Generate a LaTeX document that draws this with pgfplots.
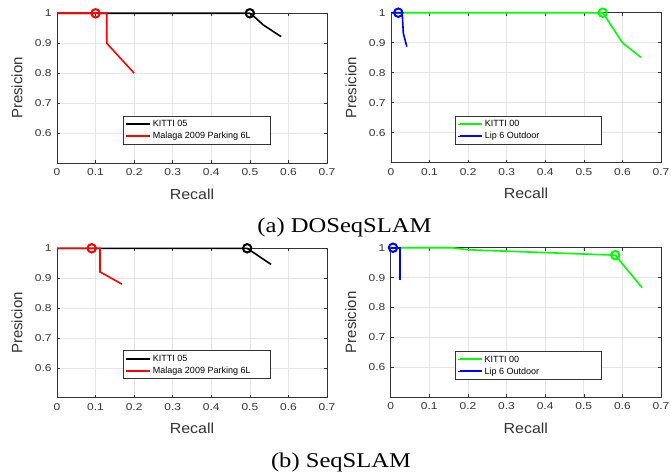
\documentclass[border=0pt]{standalone}
\usepackage{pgfplots}
\pgfplotsset{compat=1.18}
\usepackage{fontspec}
\setmainfont{Liberation Sans}
\newfontfamily\timesf{Liberation Serif}
\definecolor{mgreen}{RGB}{0,255,0}
\definecolor{mblue}{RGB}{0,0,255}
\definecolor{mred}{RGB}{255,0,0}
\definecolor{axgray}{gray}{0.2}
\pgfplotsset{
  prpanel/.style={
    scale only axis, anchor=south west,
    width=270pt, height=149.7pt,
    xmin=0, xmax=0.7, ymin=0.5, ymax=1,
    xtick={0,0.1,0.2,0.3,0.4,0.5,0.6,0.7},
    ytick={0.6,0.7,0.8,0.9,1},
    /pgf/number format/assume math mode=true,
    tick label style={font=\fontsize{10}{12}\selectfont, text=axgray, xscale=1.2},
    xticklabel style={yshift=-2pt},
    yticklabel style={xshift=-1pt},
    grid=major,
    major grid style={gray!20, line width=0.6pt},
    axis line style={axgray, line width=0.7pt},
    tick style={axgray, line width=0.5pt},
    tick align=inside, major tick length=3pt,
    clip=false,
    xlabel={Recall}, ylabel={Presicion},
    every axis x label/.style={at={(axis description cs:0.5,-0.207)}, anchor=center, font=\fontsize{14.5}{16}\selectfont, text=axgray, xscale=1.1},
    every axis y label/.style={at={(axis description cs:-0.148,0.5)}, anchor=center, rotate=90, font=\fontsize{15}{17}\selectfont, text=axgray},
    legend style={draw=axgray, fill=white, line width=0.7pt, inner sep=2pt,
      font=\fontsize{9}{10}\selectfont,
      nodes={inner sep=2pt, text height=6.5pt, text depth=1.5pt, anchor=west},
      row sep=0pt, column sep=0pt},
    legend cell align=left,
    legend image code/.code={\path (0pt,0pt) -- (24pt,0pt); \draw[#1, line width=2pt] (2pt,0.25pt) -- (24pt,0.25pt);},
  },
  pline/.style={line width=1.6pt, mark=none},
  pmark/.style={only marks, mark=o, mark size=4.2pt, mark options={line width=2pt}, forget plot},
}
\newcommand{\lt}[1]{\makebox[113pt][l]{#1}}
\begin{document}
\begin{tikzpicture}
\path[use as bounding box] (0pt,0pt) rectangle (671pt,474pt);
% (a) left
\begin{axis}[prpanel, at={(57pt,311pt)},
  legend style={at={(rel axis cs:0.517,0.22)}, anchor=center}]
\addplot[pline, black] coordinates {(0,1) (0.5,1) (0.51,0.99) (0.535,0.961) (0.581,0.922)};
\addlegendentry{\lt{KITTI 05}}
\addplot[pline, mred] coordinates {(0,1) (0.129,1) (0.129,0.9) (0.2,0.8)};
\addlegendentry{\lt{Malaga 2009 Parking 6L}}
\addplot[pmark, black] coordinates {(0.5,1)};
\addplot[pmark, mred] coordinates {(0.1,1)};
\end{axis}
% (a) right
\begin{axis}[prpanel, at={(391pt,311.3pt)}, height=150pt,
  legend style={at={(rel axis cs:0.509,0.215)}, anchor=center}]
\addplot[pline, mgreen] coordinates {(0,1) (0.549,1) (0.6,0.9) (0.648,0.851)};
\addlegendentry{\lt{KITTI 00}}
\addplot[pline, mblue] coordinates {(0,1) (0.029,1) (0.032,0.931) (0.041,0.887)};
\addlegendentry{\lt{Lip 6 Outdoor}}
\addplot[pmark, mgreen] coordinates {(0.549,1)};
\addplot[pmark, mblue] coordinates {(0.019,1)};
\end{axis}
% (b) left
\begin{axis}[prpanel, at={(57pt,76.3pt)}, height=149.4pt,
  legend style={at={(rel axis cs:0.517,0.22)}, anchor=center}]
\addplot[pline, black] coordinates {(0,1) (0.493,1) (0.555,0.946)};
\addlegendentry{\lt{KITTI 05}}
\addplot[pline, mred] coordinates {(0,1) (0.1115,1) (0.1115,0.921) (0.1685,0.88)};
\addlegendentry{\lt{Malaga 2009 Parking 6L}}
\addplot[pmark, black] coordinates {(0.493,1)};
\addplot[pmark, mred] coordinates {(0.09,1)};
\end{axis}
% (b) right
\begin{axis}[prpanel, at={(390.7pt,77pt)}, width=270.3pt, height=149.3pt,
  legend style={at={(rel axis cs:0.509,0.21)}, anchor=center}]
\addplot[pline, mgreen] coordinates {(0,1) (0.158,1) (0.201,0.993) (0.5815,0.975) (0.651,0.866)};
\addlegendentry{\lt{KITTI 00}}
\addplot[pline, mblue] coordinates {(0,1) (0.024,1) (0.024,0.891)};
\addlegendentry{\lt{Lip 6 Outdoor}}
\addplot[pmark, mgreen] coordinates {(0.5815,0.975)};
\addplot[pmark, mblue] coordinates {(0.006,1)};
\end{axis}
\node[anchor=base, xscale=1.17, font=\timesf\fontsize{21}{24}\selectfont] at (344.5pt,241.7pt) {(a) DOSeqSLAM};
\node[anchor=base, xscale=1.17, font=\timesf\fontsize{21}{24}\selectfont] at (341pt,7pt) {(b) SeqSLAM};
\end{tikzpicture}
\end{document}
